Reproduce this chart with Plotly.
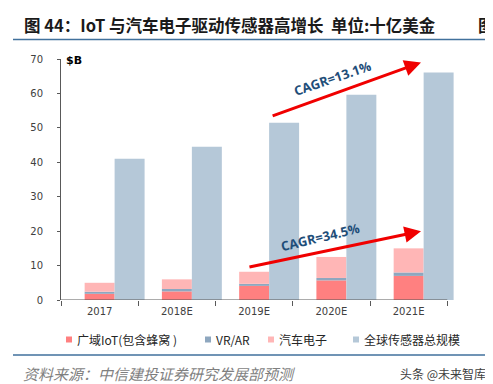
import plotly.graph_objects as go

categories = ["2017", "2018E", "2019E", "2020E", "2021E"]
iot = [1.8, 2.5, 4.1, 5.7, 7.0]
vrar = [0.6, 0.7, 0.6, 0.7, 1.0]
auto = [2.6, 2.8, 3.5, 6.1, 7.0]
total = [41.0, 44.5, 51.5, 59.6, 66.1]
names = ["广域IoT(包含蜂窝 )", "VR/AR", "汽车电子", "全球传感器总规模"]
colors = ["#FF8080", "#8EA7BF", "#FFB6B6", "#B5C8D8"]
y_ticks = [0, 10, 20, 30, 40, 50, 60, 70]

W, H = 493, 384
L, R, T, B = 53, 46, 51, 92

fig = go.Figure()
base_vr = iot
base_auto = [a + b for a, b in zip(iot, vrar)]
fig.add_trace(go.Bar(x=categories, y=iot, base=[0] * 5, name=names[0],
                     marker=dict(color=colors[0], line_width=0), offset=-0.194, width=0.388))
fig.add_trace(go.Bar(x=categories, y=vrar, base=base_vr, name=names[1],
                     marker=dict(color=colors[1], line_width=0), offset=-0.194, width=0.388))
fig.add_trace(go.Bar(x=categories, y=auto, base=base_auto, name=names[2],
                     marker=dict(color=colors[2], line_width=0), offset=-0.194, width=0.388))
fig.add_trace(go.Bar(x=categories, y=total, base=[0] * 5, name=names[3],
                     marker=dict(color=colors[3], line_width=0), offset=0.194, width=0.388))

tickfont = dict(family="DejaVu Sans", size=10, color="#404040")
fig.update_layout(
    width=W, height=H, barmode="overlay", showlegend=False,
    margin=dict(l=L, r=R, t=T, b=B),
    paper_bgcolor="white", plot_bgcolor="white",
    font=dict(family="Noto Sans CJK SC"),
    xaxis=dict(type="category", range=[-0.5, 4.6], showline=False, showgrid=False,
               ticks="outside", tickson="boundaries", ticklen=5, tickcolor="#595959",
               tickfont=tickfont, ticklabelstandoff=4),
    yaxis=dict(range=[0, 70], tickvals=y_ticks, showline=True, linecolor="#595959",
               linewidth=1, showgrid=False, zeroline=False, ticks="outside", ticklen=3,
               tickcolor="#595959", tickfont=tickfont, ticklabelstandoff=12),
)

# x axis line ending at last category boundary
fig.add_shape(type="line", xref="x", yref="y", x0=-0.5, x1=4.5, y0=0, y1=0,
              line=dict(color="#595959", width=1))

# CAGR arrows
fig.add_annotation(xref="x", yref="y", axref="x", ayref="y",
                   x=4.16, y=69.0, ax=2.22, ay=53.3, text="", showarrow=True,
                   arrowhead=2, arrowsize=1.1, arrowwidth=3, arrowcolor="#F00000")
fig.add_annotation(xref="x", yref="y", axref="x", ayref="y",
                   x=4.16, y=20.0, ax=1.92, ay=9.5, text="", showarrow=True,
                   arrowhead=2, arrowsize=1.1, arrowwidth=3, arrowcolor="#F00000")
fig.add_annotation(xref="x", yref="y", x=3.02, y=64.6, text="<b>CAGR=13.1%</b>",
                   showarrow=False, textangle=-19,
                   font=dict(family="Open Sans", size=13, color="#1F4E79"))
fig.add_annotation(xref="x", yref="y", x=2.86, y=18.2, text="<b>CAGR=34.5%</b>",
                   showarrow=False, textangle=-13.5,
                   font=dict(family="Open Sans", size=13, color="#1F4E79"))

def px_x(p):
    return (p - L) / (W - L - R)

def px_y(p):
    return 1 - (p - T) / (H - T - B)

# $B label
fig.add_annotation(xref="paper", yref="paper", x=px_x(56), y=px_y(52), xanchor="left",
                   yanchor="middle", text="<b>$B</b>", showarrow=False,
                   font=dict(family="DejaVu Sans", size=11, color="#000000"))

# Title
fig.add_annotation(xref="paper", yref="paper", x=px_x(14), y=px_y(17), xanchor="left",
                   yanchor="middle", showarrow=False,
                   text="<b>图 44：IoT 与汽车电子驱动传感器高增长&nbsp;&nbsp;单位:十亿美金</b>",
                   font=dict(family="Noto Sans CJK SC", size=16.5, color="#1A1A1A"))
fig.add_annotation(xref="paper", yref="paper", x=px_x(488), y=px_y(17), xanchor="right",
                   yanchor="middle", showarrow=False, text="<b>图</b>", borderpad=0,
                   font=dict(family="Noto Sans CJK SC", size=16.5, color="#1A1A1A"))

# separator lines
for yy in (31.5, 347):
    fig.add_shape(type="line", xref="paper", yref="paper", x0=px_x(5), x1=px_x(493),
                  y0=px_y(yy), y1=px_y(yy), line=dict(color="#41719C", width=1.3))

# legend (manual)
leg_sq = [58, 197, 260, 345]
for xs, nm, c in zip(leg_sq, names, colors):
    fig.add_shape(type="rect", xref="paper", yref="paper", x0=px_x(xs), x1=px_x(xs + 6),
                  y0=px_y(334.5), y1=px_y(328.5), fillcolor=c, line_width=0)
    fig.add_annotation(xref="paper", yref="paper", x=px_x(xs + 9), y=px_y(331.5),
                       xanchor="left", yanchor="middle", text=nm, showarrow=False,
                       font=dict(family="Noto Sans CJK SC", size=12, color="#262626"))

# source + watermark
fig.add_annotation(xref="paper", yref="paper", x=px_x(13), y=px_y(365), xanchor="left",
                   yanchor="middle", showarrow=False,
                   text="<i>资料来源：中信建投证券研究发展部预测</i>",
                   font=dict(family="Noto Sans CJK SC", size=15, color="#7F7F7F"))
fig.add_annotation(xref="paper", yref="paper", x=px_x(480), y=px_y(365), xanchor="right",
                   yanchor="middle", showarrow=False, text="头条 @未来智库",
                   font=dict(family="Noto Sans CJK SC", size=12, color="#404040"))

fig.write_html("out.html")
